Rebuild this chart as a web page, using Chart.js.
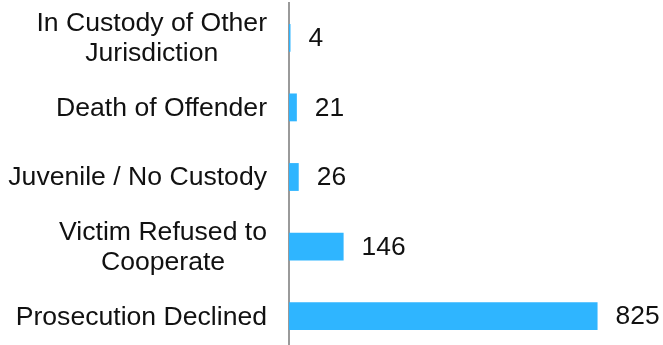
<!DOCTYPE html>
<html>
<head>
<meta charset="utf-8">
<script src="https://cdn.jsdelivr.net/npm/chart.js@4/dist/chart.umd.min.js"></script>
<style>
  html, body { margin: 0; padding: 0; background: #ffffff; overflow: hidden; }
  #wrap { position: relative; width: 663px; height: 351px; }
</style>
</head>
<body>
<div id="wrap"><canvas id="chart" style="width:663px;height:351px"></canvas></div>
<script>
// Case outcome categories (top to bottom) and their counts
const categories = [
  ['In Custody of Other', 'Jurisdiction'],
  'Death of Offender',
  'Juvenile / No Custody',
  ['Victim Refused to', 'Cooperate'],
  'Prosecution Declined'
];
const counts = [4, 21, 26, 146, 825];

const FONT = 'Liberation Sans, Arial, sans-serif';
const TEXT_COLOR = '#111111';
const LINE_GAP = 30.5;

// Category names: right-aligned block beside the axis, lines centred within it
const categoryLabels = {
  id: 'categoryLabels',
  afterDraw(chart) {
    const ctx = chart.ctx;
    const scale = chart.scales.y;
    const right = scale.right - 22;
    ctx.save();
    ctx.font = '26.6px ' + FONT;
    ctx.fillStyle = TEXT_COLOR;
    ctx.textAlign = 'center';
    ctx.textBaseline = 'middle';
    chart.data.labels.forEach((label, i) => {
      const lines = Array.isArray(label) ? label : [label];
      const blockW = Math.max(...lines.map(l => ctx.measureText(l).width));
      const cx = right - blockW / 2;
      const cy = scale.getPixelForTick(i) + 1;
      lines.forEach((line, k) => {
        const y = cy + (k - (lines.length - 1) / 2) * LINE_GAP;
        ctx.fillText(line, cx, y);
      });
    });
    ctx.restore();
  }
};

// Writes each bar's count just past its end
const valueLabels = {
  id: 'valueLabels',
  afterDatasetsDraw(chart) {
    const ctx = chart.ctx;
    const meta = chart.getDatasetMeta(0);
    ctx.save();
    ctx.font = '26.4px ' + FONT;
    ctx.fillStyle = TEXT_COLOR;
    ctx.textAlign = 'left';
    ctx.textBaseline = 'middle';
    meta.data.forEach((bar, i) => {
      ctx.fillText(String(counts[i]), bar.x + 18, bar.y + 1);
    });
    ctx.restore();
  }
};

new Chart(document.getElementById('chart'), {
  type: 'bar',
  data: {
    labels: categories,
    datasets: [{
      data: counts,
      backgroundColor: '#2fb5ff',
      borderWidth: 0,
      barPercentage: 0.4,
      categoryPercentage: 1
    }]
  },
  options: {
    indexAxis: 'y',
    responsive: false,
    maintainAspectRatio: false,
    animation: false,
    layout: { padding: { top: 3, right: 0, bottom: 0, left: 0 } },
    plugins: { legend: { display: false }, tooltip: { enabled: false } },
    scales: {
      x: { display: false, min: 0, max: 1000 },
      y: {
        grid: { display: false },
        border: { display: true, color: '#9a9a9a', width: 2 },
        ticks: { display: false },
        afterFit(scale) {
          scale.width = 289;
          scale.paddingTop = 0;
          scale.paddingBottom = 0;
        }
      }
    }
  },
  plugins: [valueLabels, categoryLabels]
});
</script>
</body>
</html>
